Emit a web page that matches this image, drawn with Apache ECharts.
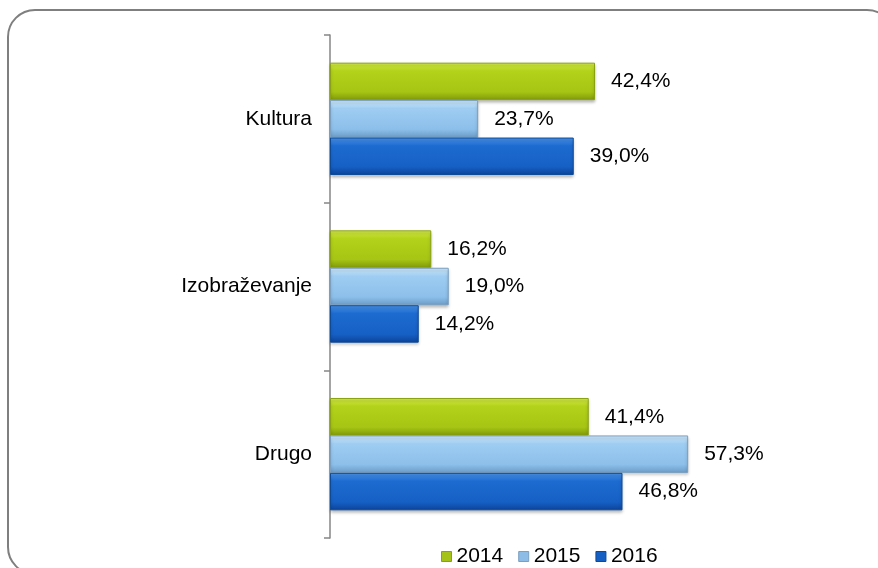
<!DOCTYPE html>
<html>
<head>
<meta charset="utf-8">
<script src="https://cdn.jsdelivr.net/npm/echarts@6/dist/echarts.min.js"></script>
<style>
  html, body { margin: 0; padding: 0; background: #ffffff; }
  #chart { width: 878px; height: 568px; }
</style>
</head>
<body>
<div id="chart"></div>
<script>
// Share of activities by year (%)
const categories = ['Kultura', 'Izobraževanje', 'Drugo'];
const years = ['2014', '2015', '2016'];
const values2014 = [42.4, 16.2, 41.4];
const values2015 = [23.7, 19.0, 57.3];
const values2016 = [39.0, 14.2, 46.8];

const FONT = '"Liberation Sans", Arial, sans-serif';

// bevelled bar fills: light top edge, darker bottom edge
function bevel(top, mid, low, bottom) {
  return new echarts.graphic.LinearGradient(0, 0, 0, 1, [
    { offset: 0, color: top },
    { offset: 0.22, color: mid },
    { offset: 0.78, color: low },
    { offset: 1, color: bottom }
  ]);
}

const palette = [
  { fill: bevel('#d6ec4a', '#b3d21a', '#a6c514', '#7f990a'), border: '#8aa112', icon: '#a4c21a' },
  { fill: bevel('#d2ecfd', '#9fcdf2', '#8cbfea', '#6a9bc6'), border: '#7a9fc0', icon: '#8dbde6' },
  { fill: bevel('#4b95ec', '#1d6bd0', '#1660c4', '#0b4398'), border: '#0d4a98', icon: '#1660c4' }
];

function fmt(v) {
  return v.toFixed(1).replace('.', ',') + '%';
}

const seriesData = [values2014, values2015, values2016];

const chart = echarts.init(document.getElementById('chart'), null, { renderer: 'canvas' });

chart.setOption({
  backgroundColor: '#ffffff',
  animation: false,
  graphic: [{
    type: 'rect',
    shape: { x: 8, y: 10, width: 886, height: 564, r: 27 },
    style: { fill: 'none', stroke: '#7f7f7f', lineWidth: 2 },
    silent: true,
    z: 100
  }],
  grid: { left: 330, right: 173, top: 35, bottom: 30, containLabel: false },
  legend: {
    data: years.map((y, i) => ({ name: y, itemStyle: { color: palette[i].icon, borderColor: palette[i].border, borderWidth: 1 } })),
    left: 436,
    top: 541,
    itemWidth: 10,
    itemHeight: 10,
    itemGap: 15,
    icon: 'rect',
    textStyle: { fontFamily: FONT, fontSize: 21, color: '#000000' }
  },
  xAxis: {
    type: 'value',
    min: 0,
    max: 60,
    show: false
  },
  yAxis: {
    type: 'category',
    data: categories,
    inverse: true,
    axisLine: { show: true, lineStyle: { color: '#868686', width: 1.5 } },
    axisTick: { show: true, length: 6, lineStyle: { color: '#868686', width: 1.5 } },
    axisLabel: { margin: 18, fontFamily: FONT, fontSize: 21, color: '#000000' },
    splitLine: { show: false }
  },
  series: years.map((y, i) => ({
    name: y,
    type: 'bar',
    data: seriesData[i],
    barGap: '0%',
    barCategoryGap: '33%',
    itemStyle: {
      color: palette[i].fill,
      borderColor: palette[i].border,
      borderWidth: 1,
      shadowColor: 'rgba(0,0,0,0.25)',
      shadowBlur: 3,
      shadowOffsetY: 2
    },
    label: {
      show: true,
      position: 'right',
      distance: 16,
      formatter: p => fmt(p.value),
      fontFamily: FONT,
      fontSize: 21,
      color: '#000000'
    }
  }))
});
</script>
</body>
</html>
